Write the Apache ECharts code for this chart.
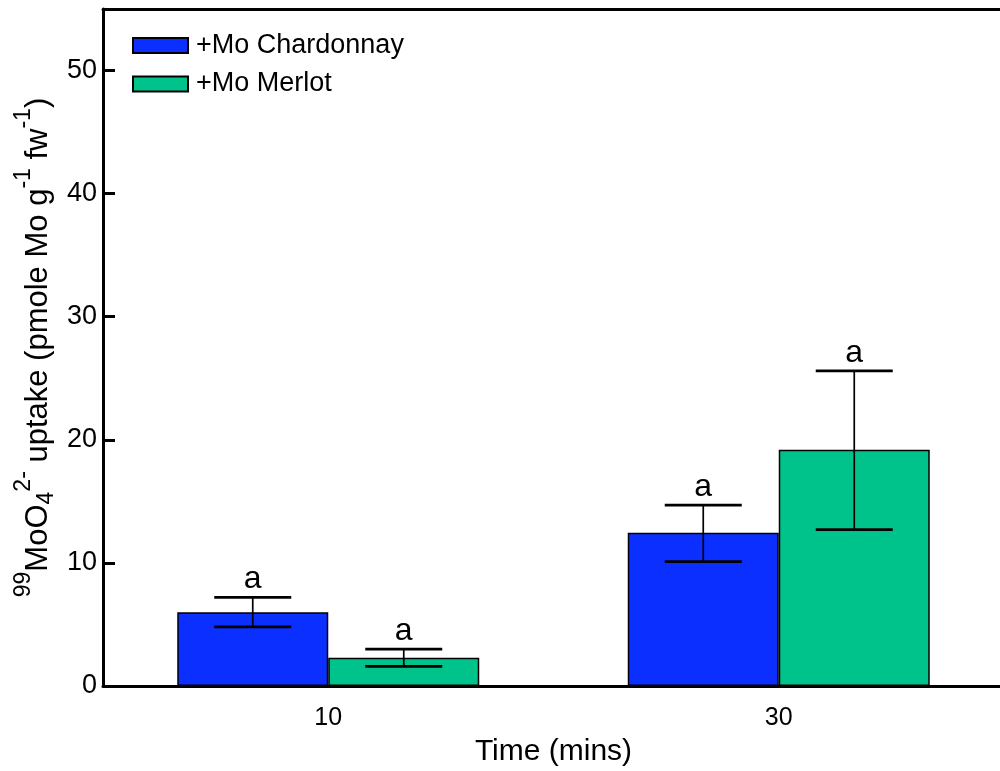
<!DOCTYPE html>
<html>
<head>
<meta charset="utf-8">
<script src="https://cdn.jsdelivr.net/npm/echarts@6/dist/echarts.min.js"></script>
<style>
  html, body { margin: 0; padding: 0; background: #fff; }
  #chart { width: 1000px; height: 771px; }
</style>
</head>
<body>
<div id="chart"></div>
<script>
// Molybdate uptake by time point, two grape varieties
const categories = ['10', '30'];
const seriesNames = ['+Mo Chardonnay', '+Mo Merlot'];

const chardonnay     = [6.0, 12.45];
const chardonnayHigh = [7.2, 14.7];
const chardonnayLow  = [4.8, 10.1];
const chardonnayTags = ['a', 'a'];

const merlot     = [2.3, 19.2];
const merlotHigh = [3.0, 25.6];
const merlotLow  = [1.6, 12.7];
const merlotTags = ['a', 'a'];

const FONT = 'Liberation Sans, Arial, Helvetica, sans-serif';
const BAR_WIDTH = 151;
const CAP_HALF = 38.5;
const COLORS = ['#0B2FFF', '#00C38C'];

function barSeries(name, values, color) {
  return {
    name: name,
    type: 'bar',
    barWidth: BAR_WIDTH,
    barGap: '0%',
    data: values,
    itemStyle: { color: color, borderColor: '#000', borderWidth: 1.5 },
    z: 2
  };
}

// error bar with its significance letter, drawn beside the matching bar
function errorSeries(name, high, low, tags, side) {
  return {
    name: name,
    type: 'custom',
    silent: true,
    z: 5,
    data: categories.map((c, i) => [i, high[i], low[i]]),
    encode: { x: 0, y: [1, 2] },
    renderItem: function (params, api) {
      const idx = api.value(0);
      const xc = api.coord([idx, 0])[0] + side * BAR_WIDTH / 2;
      const yHi = api.coord([idx, api.value(1)])[1];
      const yLo = api.coord([idx, api.value(2)])[1];
      const line = { stroke: '#000', lineWidth: 1.7 };
      const cap = { stroke: '#000', lineWidth: 2.7 };
      return {
        type: 'group',
        children: [
          { type: 'line', shape: { x1: xc, y1: yHi, x2: xc, y2: yLo }, style: line },
          { type: 'line', shape: { x1: xc - CAP_HALF, y1: yHi, x2: xc + CAP_HALF, y2: yHi }, style: cap },
          { type: 'line', shape: { x1: xc - CAP_HALF, y1: yLo, x2: xc + CAP_HALF, y2: yLo }, style: cap },
          {
            type: 'text', x: xc, y: yHi - 2,
            style: {
              text: tags[params.dataIndex], fill: '#000',
              fontSize: 32, fontFamily: FONT,
              align: 'center', verticalAlign: 'bottom'
            }
          }
        ]
      };
    }
  };
}

const chart = echarts.init(document.getElementById('chart'), null, { renderer: 'canvas' });

chart.setOption({
  animation: false,
  backgroundColor: '#fff',
  grid: { left: 103, right: -4, top: 9, bottom: 85, containLabel: false, outerBoundsMode: 'none' },
  legend: {
    data: seriesNames,
    orient: 'vertical',
    left: 127,
    top: 27,
    itemWidth: 55,
    itemHeight: 15,
    itemGap: 11.5,
    icon: 'rect',
    textStyle: { fontSize: 27, fontFamily: FONT, color: '#000', padding: [0, 0, 0, 3] }
  },
  xAxis: [
    {
      type: 'category',
      data: categories,
      position: 'bottom',
      axisLine: { lineStyle: { color: '#000', width: 3 } },
      axisTick: { show: false },
      axisLabel: { fontSize: 25, fontFamily: FONT, color: '#000', margin: 20 },
      name: 'Time (mins)',
      nameLocation: 'middle',
      nameGap: 51,
      nameMoveOverlap: false,
      nameTextStyle: { fontSize: 30, fontFamily: FONT, color: '#000' }
    },
    {
      type: 'category',
      data: categories,
      position: 'top',
      axisLine: { lineStyle: { color: '#000', width: 3 } },
      axisTick: { show: false },
      axisLabel: { show: false }
    }
  ],
  yAxis: {
    type: 'value',
    min: 0,
    max: 55,
    interval: 10,
    axisLine: { show: true, lineStyle: { color: '#000', width: 3 } },
    axisTick: { show: true, inside: true, length: 12, lineStyle: { color: '#000', width: 3 } },
    axisLabel: {
      fontSize: 27, fontFamily: FONT, color: '#000', margin: 6,
      formatter: v => (v % 10 === 0 ? String(v) : '')
    },
    splitLine: { show: false },
    name: '{sup|99}{m|MoO}{sub|4}{sup|2-}{m| uptake (pmole Mo g}{sup|-1}{m| fw}{sup|-1}{m|)}',
    nameLocation: 'middle',
    nameRotate: 90,
    nameGap: 39,
    nameMoveOverlap: false,
    nameTextStyle: {
      color: '#000',
      fontFamily: FONT,
      fontSize: 31,
      rich: {
        m: { fontSize: 31, fontFamily: FONT, color: '#000', lineHeight: 52, verticalAlign: 'middle' },
        sup: { fontSize: 23, fontFamily: FONT, color: '#000', lineHeight: 23, verticalAlign: 'top' },
        sub: { fontSize: 23, fontFamily: FONT, color: '#000', lineHeight: 23, verticalAlign: 'bottom', padding: [0, 0, 6, 0] }
      }
    }
  },
  series: [
    barSeries(seriesNames[0], chardonnay, COLORS[0]),
    barSeries(seriesNames[1], merlot, COLORS[1]),
    errorSeries('Chardonnay error', chardonnayHigh, chardonnayLow, chardonnayTags, -1),
    errorSeries('Merlot error', merlotHigh, merlotLow, merlotTags, 1)
  ]
});
</script>
</body>
</html>
